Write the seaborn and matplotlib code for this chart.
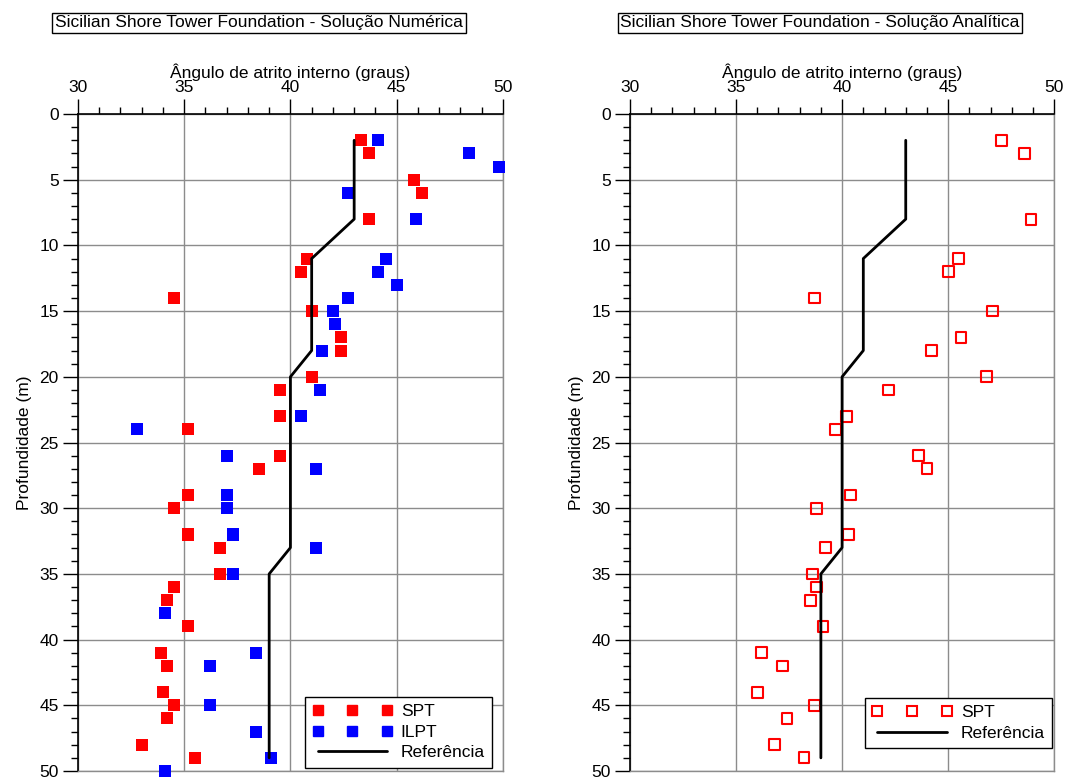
import matplotlib
matplotlib.use("Agg")
import matplotlib.pyplot as plt
import seaborn as sns
from matplotlib.lines import Line2D
from matplotlib.ticker import MultipleLocator

# %% data
spt_depth = [2, 3, 5, 6, 8, 11, 12, 14, 15, 17, 18, 20, 21, 23, 24, 26, 27, 29, 30,
             32, 33, 35, 36, 37, 39, 41, 42, 44, 45, 46, 48, 49]
spt_phi = [43.3, 43.7, 45.8, 46.2, 43.7, 40.8, 40.5, 34.5, 41.0, 42.4, 42.4, 41.0,
           39.5, 39.5, 35.2, 39.5, 38.5, 35.2, 34.5, 35.2, 36.7, 36.7, 34.5, 34.2,
           35.2, 33.9, 34.2, 34.0, 34.5, 34.2, 33.0, 35.5]

ilpt_depth = [2, 3, 4, 6, 8, 11, 12, 13, 14, 15, 16, 18, 21, 23, 24, 26, 27, 29, 30,
              32, 33, 35, 38, 41, 42, 45, 47, 49, 50]
ilpt_phi = [44.1, 48.4, 49.8, 42.7, 45.9, 44.5, 44.1, 45.0, 42.7, 42.0, 42.1, 41.5,
            41.4, 40.5, 32.8, 37.0, 41.2, 37.0, 37.0, 37.3, 41.2, 37.3, 34.1, 38.4,
            36.2, 36.2, 38.4, 39.1, 34.1]

ana_depth = [2, 3, 8, 11, 12, 14, 15, 17, 18, 20, 21, 23, 24, 26, 27, 29, 30, 32, 33,
             35, 36, 37, 39, 41, 42, 44, 45, 46, 48, 49]
ana_phi = [47.5, 48.6, 48.9, 45.5, 45.0, 38.7, 47.1, 45.6, 44.2, 46.8, 42.2, 40.2,
           39.7, 43.6, 44.0, 40.4, 38.8, 40.3, 39.2, 38.6, 38.8, 38.5, 39.1, 36.2,
           37.2, 36.0, 38.7, 37.4, 36.8, 38.2]

ref_depth = [2, 8, 11, 18, 20, 33, 35, 49]
ref_phi = [43, 43, 41, 41, 40, 40, 39, 39]

titles = ["Sicilian Shore Tower Foundation - Solução Numérica",
          "Sicilian Shore Tower Foundation - Solução Analítica"]

sns.set_theme(style="white")
plt.rcParams["font.family"] = ["Liberation Sans", "DejaVu Sans"]
plt.rcParams["text.color"] = "black"
plt.rcParams["axes.labelcolor"] = "black"
plt.rcParams["xtick.color"] = "black"
plt.rcParams["ytick.color"] = "black"

RED = "#ff0000"
BLUE = "#0000ff"
GRID = "#8c8c8c"
FS = 12.5

fig = plt.figure(figsize=(10.65, 7.81), dpi=100)
ax1 = fig.add_axes([0.0732, 0.0128, 0.399, 0.8412])
ax2 = fig.add_axes([0.5915, 0.0128, 0.3984, 0.8412])


def style_axes(ax):
    ax.set_xlim(30, 50)
    ax.set_ylim(50, 0)
    ax.xaxis.set_major_locator(MultipleLocator(5))
    ax.xaxis.set_minor_locator(MultipleLocator(1))
    ax.yaxis.set_major_locator(MultipleLocator(5))
    ax.yaxis.set_minor_locator(MultipleLocator(1))
    ax.xaxis.tick_top()
    ax.xaxis.set_label_position("top")
    ax.tick_params(axis="x", which="major", direction="out", length=10.8, width=1,
                   labelsize=FS, pad=3)
    ax.tick_params(axis="x", which="minor", direction="out", length=5, width=1)
    ax.tick_params(axis="y", which="major", direction="out", length=10.8, width=1,
                   labelsize=FS, pad=3, left=True)
    ax.tick_params(axis="y", which="minor", direction="out", length=5, width=1,
                   left=True)
    ax.grid(True, which="major", color=GRID, linewidth=1)
    ax.set_axisbelow(True)
    for side in ["left", "top"]:
        ax.spines[side].set_color("black")
        ax.spines[side].set_linewidth(1.2)
    for side in ["right", "bottom"]:
        ax.spines[side].set_color(GRID)
        ax.spines[side].set_linewidth(1)
    ax.set_xlabel("Ângulo de atrito interno (graus)", fontsize=FS, labelpad=1)
    ax.set_ylabel("Profundidade (m)", fontsize=FS, labelpad=5)


def add_legend(ax, handles, labels, anchor):
    leg = ax.legend(handles, labels, loc="lower right", bbox_to_anchor=anchor,
                    numpoints=3, handlelength=4.6, fontsize=FS, frameon=True,
                    fancybox=False, edgecolor="black", framealpha=1,
                    borderpad=0.42, labelspacing=0.32, handletextpad=0.5,
                    borderaxespad=0)
    leg.get_frame().set_linewidth(1)
    return leg


# %% left panel: numerical solution
sns.scatterplot(x=spt_phi, y=spt_depth, ax=ax1, marker="s", s=75, color=RED,
                edgecolor="none", clip_on=False, zorder=3)
sns.scatterplot(x=ilpt_phi, y=ilpt_depth, ax=ax1, marker="s", s=75, color=BLUE,
                edgecolor="none", clip_on=False, zorder=3)
sns.lineplot(x=ref_phi, y=ref_depth, ax=ax1, sort=False, estimator=None,
             color="black", linewidth=2, zorder=4)
style_axes(ax1)

h1 = [Line2D([], [], marker="s", linestyle="none", color=RED, markersize=7.5),
      Line2D([], [], marker="s", linestyle="none", color=BLUE, markersize=7.5),
      Line2D([], [], color="black", linewidth=2)]
add_legend(ax1, h1, ["SPT", "ILPT", "Referência"], (0.975, 0.005))

# %% right panel: analytical solution
sns.scatterplot(x=ana_phi, y=ana_depth, ax=ax2, marker="s", s=60, facecolor="none",
                edgecolor=RED, linewidth=1.5, clip_on=False, zorder=3)
sns.lineplot(x=ref_phi, y=ref_depth, ax=ax2, sort=False, estimator=None,
             color="black", linewidth=2, zorder=4)
style_axes(ax2)

h2 = [Line2D([], [], marker="s", linestyle="none", markerfacecolor="none",
             markeredgecolor=RED, markeredgewidth=1.5, markersize=6.5),
      Line2D([], [], color="black", linewidth=2)]
add_legend(ax2, h2, ["SPT", "Referência"], (0.995, 0.035))

# %% boxed titles
for xc, t in zip([0.2432, 0.77], titles):
    fig.text(xc, 0.971, t, ha="center", va="center", fontsize=FS,
             bbox=dict(boxstyle="square,pad=0.15", facecolor="white",
                       edgecolor="black", linewidth=1))

fig.savefig("out.png", dpi=100)
